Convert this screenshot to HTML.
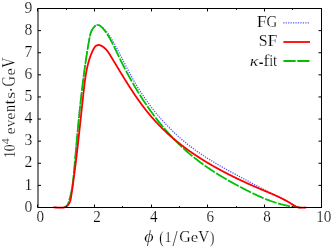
<!DOCTYPE html>
<html><head><meta charset="utf-8"><title>plot</title>
<style>
html,body{margin:0;padding:0;background:#fff;}
body{width:332px;height:247px;overflow:hidden;font-family:"Liberation Serif",serif;}
svg{display:block;}
text{font-family:"Liberation Serif",serif;fill:#000;font-kerning:none;stroke:#fff;stroke-width:0.2px;vector-effect:non-scaling-stroke;}
</style></head><body>
<svg width="332" height="247" viewBox="0 0 332 247">
<rect x="0" y="0" width="332" height="247" fill="#fff"/>
<path d="M53.59,207.48 L54.18,207.42 L54.86,207.41 L55.61,207.43 L56.42,207.47 L57.27,207.52 L58.17,207.57 L59.08,207.60 L60.01,207.60 L60.94,207.60 L61.85,207.60 L62.74,207.52 L63.58,207.39 L64.37,207.19 L65.10,206.91 L65.76,206.55 L66.33,206.11 L66.84,205.60 L67.29,205.02 L67.68,204.38 L68.02,203.70 L68.32,202.97 L68.59,202.22 L68.84,201.44 L69.07,200.64 L69.28,199.84 L69.49,199.04 L69.70,198.24 L69.90,197.44 L70.09,196.64 L70.28,195.84 L70.47,195.04 L70.65,194.23 L70.83,193.43 L71.00,192.63 L71.16,191.83 L71.33,191.03 L71.49,190.22 L71.64,189.42 L71.79,188.62 L71.94,187.82 L72.08,187.01 L72.22,186.21 L72.35,185.41 L72.48,184.60 L72.61,183.80 L72.74,183.00 L72.86,182.19 L72.97,181.39 L73.09,180.59 L73.20,179.78 L73.31,178.98 L73.41,178.17 L73.52,177.37 L73.62,176.56 L73.71,175.76 L73.81,174.95 L73.90,174.15 L73.99,173.34 L74.08,172.54 L74.16,171.73 L74.25,170.93 L74.33,170.12 L74.41,169.32 L74.48,168.51 L74.56,167.70 L74.63,166.90 L74.71,166.09 L74.78,165.28 L74.85,164.48 L74.91,163.67 L74.98,162.86 L75.05,162.05 L75.11,161.25 L75.18,160.44 L75.24,159.63 L75.30,158.82 L75.36,158.01 L75.43,157.21 L75.49,156.40 L75.55,155.59 L75.61,154.78 L75.67,153.97 L75.73,153.16 L75.78,152.35 L75.84,151.54 L75.90,150.73 L75.96,149.92 L76.02,149.11 L76.09,148.30 L76.15,147.49 L76.21,146.68 L76.27,145.87 L76.33,145.06 L76.40,144.25 L76.46,143.44 L76.53,142.63 L76.60,141.82 L76.66,141.00 L76.73,140.19 L76.80,139.38 L76.87,138.57 L76.94,137.76 L77.01,136.94 L77.08,136.13 L77.15,135.32 L77.23,134.51 L77.30,133.69 L77.38,132.88 L77.45,132.07 L77.53,131.26 L77.60,130.44 L77.68,129.63 L77.76,128.82 L77.83,128.00 L77.91,127.19 L77.99,126.38 L78.07,125.57 L78.15,124.75 L78.23,123.94 L78.32,123.13 L78.40,122.32 L78.48,121.50 L78.56,120.69 L78.65,119.88 L78.73,119.07 L78.82,118.26 L78.90,117.44 L78.99,116.63 L79.07,115.82 L79.16,115.01 L79.24,114.20 L79.33,113.39 L79.42,112.58 L79.51,111.77 L79.59,110.96 L79.68,110.15 L79.77,109.34 L79.86,108.53 L79.95,107.72 L80.04,106.91 L80.13,106.10 L80.22,105.29 L80.31,104.48 L80.40,103.67 L80.50,102.86 L80.59,102.06 L80.68,101.25 L80.77,100.44 L80.86,99.64 L80.96,98.83 L81.05,98.02 L81.14,97.22 L81.23,96.41 L81.33,95.61 L81.42,94.80 L81.51,94.00 L81.61,93.20 L81.70,92.39 L81.80,91.59 L81.89,90.79 L81.99,89.98 L82.08,89.18 L82.18,88.38 L82.27,87.58 L82.37,86.78 L82.46,85.97 L82.56,85.17 L82.66,84.37 L82.75,83.57 L82.85,82.77 L82.95,81.97 L83.05,81.17 L83.15,80.37 L83.25,79.57 L83.35,78.77 L83.45,77.97 L83.55,77.17 L83.65,76.37 L83.75,75.56 L83.86,74.76 L83.96,73.96 L84.07,73.16 L84.17,72.36 L84.28,71.56 L84.38,70.76 L84.49,69.96 L84.60,69.15 L84.71,68.35 L84.82,67.55 L84.93,66.75 L85.04,65.94 L85.15,65.14 L85.26,64.34 L85.38,63.53 L85.49,62.73 L85.61,61.92 L85.72,61.12 L85.84,60.31 L85.96,59.51 L86.08,58.70 L86.20,57.89 L86.32,57.09 L86.44,56.28 L86.56,55.47 L86.69,54.66 L86.81,53.85 L86.94,53.04 L87.07,52.23 L87.20,51.42 L87.33,50.61 L87.46,49.80 L87.59,48.98 L87.73,48.17 L87.86,47.35 L88.00,46.54 L88.14,45.72 L88.27,44.91 L88.41,44.09 L88.56,43.27 L88.70,42.45 L88.84,41.63 L88.99,40.81 L89.14,39.99 L89.29,39.16 L89.44,38.34 L89.60,37.52 L89.76,36.70 L89.94,35.89 L90.14,35.08 L90.35,34.29 L90.58,33.50 L90.84,32.72 L91.12,31.95 L91.43,31.20 L91.77,30.47 L92.15,29.75 L92.56,29.05 L93.01,28.37 L93.51,27.71 L94.05,27.08 L94.63,26.49 L95.24,25.96 L95.88,25.52 L96.53,25.18 L97.20,24.96 L97.88,24.89 L98.55,24.98 L99.22,25.21 L99.89,25.55 L100.54,25.98 L101.18,26.45 L101.81,26.95 L102.43,27.46 L103.03,27.99 L103.61,28.54 L104.18,29.09 L104.74,29.67 L105.29,30.25 L105.83,30.85 L106.35,31.46 L106.87,32.08 L107.37,32.72 L107.86,33.36 L108.35,34.01 L108.82,34.68 L109.29,35.35 L109.74,36.02 L110.20,36.71 L110.64,37.40 L111.08,38.10 L111.51,38.80 L111.93,39.51 L112.35,40.23 L112.76,40.94 L113.17,41.66 L113.58,42.38 L113.98,43.11 L114.38,43.83 L114.78,44.56 L115.17,45.28 L115.57,46.01 L115.96,46.73 L116.35,47.46 L116.73,48.19 L117.12,48.91 L117.50,49.64 L117.88,50.37 L118.26,51.09 L118.64,51.82 L119.02,52.55 L119.40,53.27 L119.77,54.00 L120.15,54.72 L120.52,55.45 L120.89,56.18 L121.26,56.90 L121.64,57.63 L122.01,58.35 L122.38,59.08 L122.75,59.80 L123.12,60.53 L123.48,61.25 L123.85,61.98 L124.22,62.70 L124.59,63.42 L124.96,64.14 L125.33,64.87 L125.70,65.59 L126.07,66.31 L126.44,67.03 L126.82,67.75 L127.19,68.47 L127.56,69.19 L127.94,69.90 L128.31,70.62 L128.69,71.34 L129.07,72.05 L129.45,72.77 L129.83,73.48 L130.21,74.19 L130.59,74.90 L130.98,75.61 L131.37,76.32 L131.76,77.03 L132.15,77.74 L132.54,78.45 L132.94,79.15 L133.34,79.86 L133.74,80.56 L134.14,81.26 L134.54,81.96 L134.95,82.66 L135.36,83.36 L135.77,84.06 L136.19,84.76 L136.61,85.45 L137.03,86.15 L137.45,86.84 L137.87,87.53 L138.30,88.22 L138.73,88.91 L139.16,89.59 L139.60,90.28 L140.03,90.96 L140.47,91.65 L140.91,92.33 L141.36,93.01 L141.80,93.69 L142.25,94.37 L142.70,95.04 L143.16,95.72 L143.61,96.39 L144.07,97.06 L144.53,97.73 L144.99,98.40 L145.46,99.07 L145.93,99.73 L146.40,100.40 L146.87,101.06 L147.34,101.72 L147.82,102.38 L148.30,103.03 L148.78,103.69 L149.26,104.34 L149.75,105.00 L150.24,105.65 L150.73,106.30 L151.22,106.94 L151.72,107.59 L152.21,108.23 L152.71,108.88 L153.22,109.52 L153.72,110.15 L154.23,110.79 L154.74,111.43 L155.25,112.06 L155.76,112.69 L156.28,113.32 L156.79,113.95 L157.31,114.57 L157.84,115.20 L158.36,115.82 L158.89,116.44 L159.42,117.06 L159.95,117.67 L160.48,118.29 L161.02,118.90 L161.56,119.51 L162.10,120.11 L162.64,120.72 L163.19,121.32 L163.73,121.93 L164.28,122.53 L164.83,123.12 L165.39,123.72 L165.94,124.31 L166.50,124.90 L167.06,125.49 L167.62,126.08 L168.19,126.66 L168.76,127.25 L169.33,127.83 L169.90,128.40 L170.47,128.98 L171.05,129.55 L171.62,130.13 L172.20,130.69 L172.79,131.26 L173.37,131.83 L173.96,132.39 L174.55,132.95 L175.14,133.50 L175.73,134.06 L176.32,134.61 L176.92,135.16 L177.52,135.71 L178.12,136.26 L178.73,136.80 L179.33,137.34 L179.94,137.88 L180.55,138.41 L181.16,138.95 L181.77,139.48 L182.39,140.00 L183.01,140.53 L183.63,141.05 L184.25,141.57 L184.88,142.09 L185.50,142.61 L186.13,143.12 L186.76,143.63 L187.40,144.13 L188.03,144.64 L188.67,145.14 L189.31,145.64 L189.95,146.14 L190.59,146.63 L191.24,147.12 L191.88,147.61 L192.53,148.10 L193.18,148.58 L193.84,149.06 L194.49,149.54 L195.15,150.01 L195.81,150.48 L196.47,150.95 L197.13,151.42 L197.79,151.89 L198.46,152.35 L199.13,152.81 L199.80,153.27 L200.47,153.73 L201.14,154.18 L201.82,154.63 L202.49,155.08 L203.17,155.53 L203.85,155.97 L204.53,156.42 L205.21,156.86 L205.89,157.30 L206.58,157.73 L207.26,158.17 L207.95,158.60 L208.64,159.03 L209.33,159.46 L210.02,159.89 L210.71,160.32 L211.41,160.74 L212.10,161.16 L212.80,161.59 L213.49,162.00 L214.19,162.42 L214.89,162.84 L215.59,163.25 L216.29,163.67 L216.99,164.08 L217.70,164.49 L218.40,164.90 L219.10,165.31 L219.81,165.71 L220.52,166.12 L221.22,166.52 L221.93,166.92 L222.64,167.33 L223.35,167.73 L224.06,168.13 L224.77,168.52 L225.48,168.92 L226.19,169.32 L226.90,169.71 L227.62,170.11 L228.33,170.50 L229.04,170.89 L229.76,171.29 L230.47,171.68 L231.19,172.07 L231.90,172.46 L232.62,172.85 L233.34,173.23 L234.05,173.62 L234.77,174.01 L235.49,174.39 L236.20,174.78 L236.92,175.17 L237.64,175.55 L238.35,175.94 L239.07,176.32 L239.79,176.70 L240.51,177.09 L241.22,177.47 L241.94,177.85 L242.66,178.24 L243.38,178.62 L244.09,179.00 L244.81,179.39 L245.53,179.77 L246.24,180.15 L246.96,180.53 L247.67,180.92 L248.39,181.30 L249.10,181.68 L249.82,182.06 L250.53,182.45 L251.25,182.83 L251.96,183.21 L252.68,183.59 L253.39,183.98 L254.11,184.36 L254.82,184.74 L255.53,185.12 L256.25,185.50 L256.96,185.88 L257.68,186.26 L258.39,186.64 L259.11,187.02 L259.82,187.40 L260.54,187.78 L261.25,188.15 L261.97,188.53 L262.69,188.91 L263.40,189.28 L264.12,189.66 L264.84,190.03 L265.56,190.40 L266.28,190.77 L267.00,191.14 L267.72,191.51 L268.44,191.88 L269.16,192.25 L269.89,192.62 L270.61,192.98 L271.34,193.35 L272.06,193.71 L272.79,194.07 L273.52,194.43 L274.25,194.79 L274.98,195.14 L275.71,195.50 L276.44,195.85 L277.17,196.21 L277.91,196.56 L278.65,196.91 L279.38,197.25 L280.12,197.60 L280.86,197.95 L281.59,198.30 L282.33,198.66 L283.06,199.01 L283.79,199.37 L284.52,199.74 L285.25,200.11 L285.97,200.48 L286.68,200.87 L287.40,201.26 L288.10,201.66 L288.80,202.07 L289.50,202.50 L290.19,202.93 L290.87,203.37 L291.55,203.81 L292.23,204.25 L292.91,204.69 L293.59,205.12 L294.27,205.53 L294.96,205.92 L295.66,206.30 L296.36,206.65 L297.08,206.97 L297.80,207.25 L298.54,207.50 L299.30,207.60 L300.08,207.60 L300.87,207.60 L301.68,207.60 L302.52,207.60 L303.38,207.60 L304.27,207.60 L305.18,207.60 L306.13,207.36" fill="none" stroke="#0000ff" stroke-width="1.3" stroke-dasharray="1.2 1.25" stroke-opacity="0.68"/>
<path d="M64.21,207.28 L65.07,207.00 L65.81,206.62 L66.44,206.15 L66.97,205.60 L67.42,204.99 L67.80,204.33 L68.12,203.62 L68.41,202.89 L68.67,202.14 L68.92,201.38 L69.17,200.63 L69.40,199.87 L69.62,199.11 L69.84,198.35 L70.05,197.59 L70.25,196.83 L70.45,196.07 L70.63,195.30 L70.81,194.53 L70.98,193.77 L71.15,193.00 L71.31,192.23 L71.46,191.45 L71.61,190.68 L71.76,189.91 L71.89,189.13 L72.02,188.36 L72.15,187.58 L72.27,186.80 L72.39,186.02 L72.50,185.24 L72.61,184.46 L72.72,183.68 L72.82,182.90 L72.91,182.12 L73.01,181.33 L73.10,180.55 L73.19,179.77 L73.27,178.98 L73.36,178.20 L73.44,177.41 L73.52,176.62 L73.59,175.84 L73.67,175.05 L73.74,174.26 L73.82,173.47 L73.89,172.69 L73.96,171.90 L74.03,171.11 L74.10,170.32 L74.17,169.53 L74.24,168.74 L74.32,167.95 L74.39,167.17 L74.46,166.38 L74.53,165.59 L74.60,164.80 L74.67,164.01 L74.74,163.22 L74.81,162.43 L74.88,161.64 L74.95,160.85 L75.02,160.06 L75.09,159.27 L75.16,158.48 L75.23,157.69 L75.30,156.90 L75.37,156.11 L75.44,155.32 L75.52,154.53 L75.59,153.74 L75.66,152.95 L75.73,152.16 L75.80,151.37 L75.87,150.58 L75.94,149.79 L76.01,149.00 L76.08,148.21 L76.15,147.42 L76.22,146.63 L76.30,145.84 L76.37,145.05 L76.44,144.26 L76.51,143.47 L76.58,142.68 L76.65,141.89 L76.73,141.10 L76.80,140.31 L76.87,139.52 L76.94,138.73 L77.02,137.94 L77.09,137.15 L77.16,136.36 L77.23,135.57 L77.31,134.78 L77.38,134.00 L77.45,133.21 L77.53,132.42 L77.60,131.63 L77.68,130.84 L77.75,130.05 L77.83,129.26 L77.90,128.47 L77.97,127.68 L78.05,126.89 L78.13,126.10 L78.20,125.31 L78.28,124.53 L78.35,123.74 L78.43,122.95 L78.51,122.16 L78.58,121.37 L78.66,120.58 L78.74,119.80 L78.82,119.01 L78.89,118.22 L78.97,117.43 L79.05,116.65 L79.13,115.86 L79.21,115.07 L79.29,114.28 L79.37,113.50 L79.45,112.71 L79.53,111.92 L79.61,111.14 L79.69,110.35 L79.77,109.56 L79.85,108.78 L79.93,107.99 L80.02,107.21 L80.10,106.42 L80.18,105.64 L80.27,104.85 L80.35,104.07 L80.43,103.28 L80.52,102.50 L80.60,101.71 L80.69,100.93 L80.78,100.15 L80.86,99.36 L80.95,98.58 L81.04,97.79 L81.12,97.01 L81.21,96.23 L81.30,95.45 L81.39,94.66 L81.48,93.88 L81.57,93.10 L81.66,92.32 L81.75,91.54 L81.84,90.76 L81.93,89.97 L82.02,89.19 L82.11,88.41 L82.21,87.63 L82.30,86.85 L82.40,86.07 L82.49,85.29 L82.58,84.51 L82.68,83.74 L82.78,82.96 L82.87,82.18 L82.97,81.40 L83.07,80.62 L83.17,79.84 L83.27,79.06 L83.37,78.28 L83.47,77.50 L83.57,76.72 L83.67,75.94 L83.77,75.16 L83.87,74.39 L83.98,73.61 L84.08,72.83 L84.19,72.05 L84.29,71.27 L84.40,70.49 L84.51,69.71 L84.61,68.93 L84.72,68.14 L84.83,67.36 L84.94,66.58 L85.05,65.80 L85.16,65.02 L85.28,64.24 L85.39,63.45 L85.50,62.67 L85.62,61.89 L85.74,61.10 L85.85,60.32 L85.97,59.53 L86.09,58.75 L86.21,57.96 L86.33,57.18 L86.45,56.39 L86.57,55.60 L86.69,54.81 L86.82,54.03 L86.94,53.24 L87.07,52.45 L87.19,51.66 L87.32,50.86 L87.45,50.07 L87.58,49.28 L87.71,48.49 L87.84,47.69 L87.97,46.90 L88.10,46.10 L88.24,45.31 L88.37,44.51 L88.51,43.71 L88.65,42.91 L88.79,42.11 L88.93,41.31 L89.07,40.51 L89.21,39.71 L89.35,38.91 L89.50,38.11 L89.65,37.31 L89.82,36.51 L89.99,35.72 L90.18,34.94 L90.38,34.16 L90.61,33.40 L90.85,32.65 L91.12,31.91 L91.42,31.19 L91.75,30.48 L92.10,29.79 L92.50,29.12 L92.93,28.47 L93.39,27.85 L93.90,27.25 L94.45,26.69 L95.03,26.19 L95.63,25.75 L96.25,25.41 L96.88,25.17 L97.52,25.05 L98.15,25.07 L98.78,25.21 L99.40,25.46 L100.02,25.80 L100.62,26.23 L101.22,26.72 L101.81,27.27 L102.38,27.85 L102.94,28.45 L103.48,29.07 L104.01,29.70 L104.52,30.34 L105.02,30.98 L105.51,31.63 L105.98,32.29 L106.45,32.96 L106.90,33.63 L107.34,34.31 L107.78,34.99 L108.20,35.68 L108.62,36.37 L109.03,37.06 L109.43,37.75 L109.83,38.45 L110.22,39.15 L110.60,39.84 L110.98,40.54 L111.36,41.24 L111.73,41.95 L112.09,42.65 L112.45,43.35 L112.81,44.06 L113.17,44.77 L113.52,45.47 L113.87,46.18 L114.21,46.89 L114.56,47.60 L114.90,48.31 L115.24,49.02 L115.58,49.73 L115.91,50.44 L116.25,51.15 L116.59,51.86 L116.92,52.57 L117.26,53.28 L117.60,53.99 L117.94,54.70 L118.28,55.41 L118.62,56.12 L118.96,56.83 L119.30,57.54 L119.64,58.25 L119.99,58.96 L120.34,59.66 L120.68,60.37 L121.03,61.08 L121.38,61.79 L121.74,62.49 L122.09,63.20 L122.44,63.90 L122.80,64.61 L123.16,65.31 L123.52,66.02 L123.88,66.72 L124.24,67.42 L124.60,68.13 L124.97,68.83 L125.33,69.53 L125.70,70.23 L126.07,70.93 L126.44,71.63 L126.81,72.33 L127.18,73.03 L127.56,73.72 L127.93,74.42 L128.31,75.12 L128.69,75.81 L129.07,76.51 L129.45,77.20 L129.83,77.90 L130.22,78.59 L130.60,79.28 L130.99,79.97 L131.38,80.66 L131.77,81.35 L132.16,82.04 L132.55,82.73 L132.95,83.42 L133.34,84.10 L133.74,84.79 L134.14,85.47 L134.54,86.16 L134.94,86.84 L135.35,87.52 L135.75,88.21 L136.16,88.89 L136.57,89.57 L136.98,90.24 L137.39,90.92 L137.80,91.60 L138.22,92.27 L138.63,92.95 L139.05,93.62 L139.47,94.30 L139.89,94.97 L140.31,95.64 L140.74,96.31 L141.16,96.98 L141.59,97.64 L142.02,98.31 L142.45,98.98 L142.88,99.64 L143.31,100.30 L143.75,100.97 L144.19,101.63 L144.63,102.29 L145.07,102.95 L145.51,103.60 L145.95,104.26 L146.40,104.91 L146.84,105.57 L147.29,106.22 L147.74,106.87 L148.19,107.52 L148.65,108.17 L149.10,108.82 L149.56,109.46 L150.02,110.11 L150.48,110.75 L150.94,111.40 L151.40,112.04 L151.87,112.68 L152.34,113.31 L152.80,113.95 L153.27,114.59 L153.75,115.22 L154.22,115.85 L154.70,116.48 L155.17,117.11 L155.65,117.74 L156.13,118.37 L156.62,118.99 L157.10,119.62 L157.59,120.24 L158.08,120.86 L158.57,121.48 L159.06,122.10 L159.55,122.71 L160.05,123.33 L160.54,123.94 L161.04,124.55 L161.54,125.16 L162.05,125.77 L162.55,126.38 L163.06,126.98 L163.56,127.59 L164.07,128.19 L164.59,128.79 L165.10,129.39 L165.62,129.98 L166.13,130.58 L166.65,131.17 L167.17,131.76 L167.70,132.35 L168.22,132.94 L168.75,133.52 L169.28,134.11 L169.81,134.69 L170.34,135.27 L170.87,135.85 L171.41,136.43 L171.95,137.00 L172.49,137.58 L173.03,138.15 L173.57,138.72 L174.12,139.28 L174.67,139.85 L175.22,140.41 L175.77,140.98 L176.32,141.54 L176.88,142.09 L177.44,142.65 L177.99,143.20 L178.56,143.76 L179.12,144.31 L179.69,144.85 L180.25,145.40 L180.82,145.94 L181.39,146.48 L181.97,147.02 L182.54,147.56 L183.12,148.10 L183.70,148.63 L184.28,149.16 L184.87,149.69 L185.45,150.22 L186.04,150.74 L186.63,151.26 L187.22,151.78 L187.81,152.30 L188.41,152.82 L189.01,153.33 L189.61,153.84 L190.21,154.35 L190.81,154.86 L191.42,155.36 L192.03,155.87 L192.64,156.37 L193.25,156.86 L193.87,157.36 L194.48,157.85 L195.10,158.34 L195.72,158.83 L196.35,159.32 L196.97,159.80 L197.60,160.29 L198.23,160.77 L198.86,161.24 L199.49,161.72 L200.12,162.19 L200.76,162.66 L201.40,163.13 L202.04,163.60 L202.68,164.06 L203.32,164.53 L203.97,164.99 L204.61,165.45 L205.26,165.90 L205.91,166.36 L206.56,166.81 L207.21,167.26 L207.87,167.71 L208.52,168.16 L209.18,168.60 L209.84,169.04 L210.50,169.48 L211.16,169.92 L211.83,170.36 L212.49,170.79 L213.16,171.23 L213.83,171.66 L214.49,172.09 L215.16,172.52 L215.84,172.94 L216.51,173.37 L217.18,173.79 L217.86,174.21 L218.53,174.63 L219.21,175.04 L219.89,175.46 L220.57,175.87 L221.25,176.28 L221.93,176.69 L222.62,177.10 L223.30,177.51 L223.99,177.91 L224.67,178.32 L225.36,178.72 L226.05,179.12 L226.74,179.52 L227.43,179.92 L228.12,180.31 L228.81,180.70 L229.50,181.10 L230.20,181.49 L230.89,181.88 L231.59,182.27 L232.28,182.65 L232.98,183.04 L233.67,183.42 L234.37,183.80 L235.07,184.18 L235.77,184.56 L236.47,184.94 L237.17,185.32 L237.87,185.69 L238.57,186.06 L239.27,186.44 L239.98,186.81 L240.68,187.18 L241.38,187.55 L242.09,187.91 L242.79,188.28 L243.49,188.64 L244.20,189.01 L244.90,189.37 L245.61,189.73 L246.32,190.09 L247.02,190.45 L247.73,190.80 L248.43,191.16 L249.14,191.51 L249.85,191.86 L250.56,192.21 L251.27,192.56 L251.98,192.91 L252.69,193.25 L253.40,193.60 L254.11,193.94 L254.82,194.28 L255.53,194.61 L256.25,194.94 L256.96,195.28 L257.68,195.60 L258.39,195.93 L259.11,196.25 L259.83,196.57 L260.55,196.89 L261.27,197.20 L261.99,197.52 L262.71,197.82 L263.43,198.13 L264.16,198.43 L264.88,198.73 L265.61,199.02 L266.34,199.32 L267.07,199.60 L267.80,199.89 L268.53,200.17 L269.26,200.44 L270.00,200.72 L270.73,200.99 L271.47,201.25 L272.21,201.51 L272.95,201.77 L273.69,202.02 L274.44,202.27 L275.18,202.51 L275.93,202.75 L276.68,202.98 L277.43,203.21 L278.18,203.43 L278.94,203.65 L279.69,203.86 L280.45,204.07 L281.21,204.28 L281.97,204.48 L282.74,204.67 L283.50,204.86 L284.27,205.04 L285.04,205.22 L285.81,205.39 L286.59,205.55 L287.37,205.71 L288.14,205.86 L288.92,206.01 L289.71,206.15 L290.49,206.29 L291.28,206.42 L292.07,206.54 L292.86,206.66 L293.66,206.77 L294.46,206.87 L295.26,206.97 L296.06,207.06 L296.87,207.14 L297.67,207.22 L298.48,207.29 L299.30,207.35 L300.11,207.41" fill="none" stroke="#00c000" stroke-width="1.8" stroke-dasharray="12.2 1.61" stroke-dashoffset="4.70"/>
<path d="M53.53,207.40 L54.20,207.42 L54.90,207.46 L55.63,207.52 L56.39,207.58 L57.16,207.60 L57.96,207.60 L58.76,207.60 L59.57,207.60 L60.38,207.60 L61.19,207.60 L61.98,207.60 L62.77,207.60 L63.53,207.52 L64.27,207.33 L64.98,207.09 L65.65,206.79 L66.29,206.44 L66.89,206.05 L67.44,205.62 L67.94,205.14 L68.40,204.62 L68.80,204.07 L69.17,203.49 L69.49,202.87 L69.77,202.23 L70.03,201.57 L70.25,200.88 L70.45,200.17 L70.63,199.45 L70.78,198.71 L70.92,197.96 L71.05,197.21 L71.18,196.45 L71.29,195.68 L71.41,194.91 L71.52,194.15 L71.63,193.38 L71.75,192.62 L71.86,191.86 L71.97,191.09 L72.08,190.33 L72.19,189.57 L72.30,188.80 L72.41,188.04 L72.52,187.28 L72.63,186.52 L72.73,185.76 L72.84,185.00 L72.95,184.24 L73.05,183.48 L73.16,182.72 L73.26,181.96 L73.36,181.20 L73.47,180.44 L73.57,179.68 L73.67,178.92 L73.77,178.17 L73.88,177.41 L73.98,176.65 L74.08,175.89 L74.18,175.14 L74.27,174.38 L74.37,173.62 L74.47,172.87 L74.57,172.11 L74.67,171.36 L74.76,170.60 L74.86,169.85 L74.95,169.09 L75.05,168.34 L75.14,167.58 L75.24,166.83 L75.33,166.08 L75.43,165.32 L75.52,164.57 L75.61,163.82 L75.71,163.06 L75.80,162.31 L75.89,161.56 L75.98,160.81 L76.07,160.05 L76.16,159.30 L76.25,158.55 L76.34,157.80 L76.43,157.05 L76.52,156.30 L76.61,155.54 L76.70,154.79 L76.79,154.04 L76.87,153.29 L76.96,152.54 L77.05,151.79 L77.13,151.04 L77.22,150.29 L77.31,149.54 L77.39,148.79 L77.48,148.04 L77.57,147.29 L77.65,146.54 L77.74,145.79 L77.82,145.04 L77.90,144.29 L77.99,143.54 L78.07,142.79 L78.16,142.04 L78.24,141.30 L78.32,140.55 L78.41,139.80 L78.49,139.05 L78.57,138.30 L78.66,137.55 L78.74,136.80 L78.82,136.05 L78.90,135.30 L78.99,134.55 L79.07,133.81 L79.15,133.06 L79.23,132.31 L79.31,131.56 L79.39,130.81 L79.48,130.06 L79.56,129.31 L79.64,128.56 L79.72,127.81 L79.80,127.07 L79.88,126.32 L79.96,125.57 L80.04,124.82 L80.12,124.07 L80.20,123.32 L80.28,122.57 L80.36,121.82 L80.45,121.07 L80.53,120.32 L80.61,119.57 L80.69,118.82 L80.77,118.07 L80.85,117.32 L80.93,116.57 L81.01,115.82 L81.09,115.07 L81.17,114.32 L81.25,113.57 L81.33,112.82 L81.41,112.07 L81.49,111.32 L81.57,110.57 L81.65,109.82 L81.73,109.07 L81.82,108.31 L81.90,107.56 L81.98,106.81 L82.06,106.06 L82.14,105.31 L82.22,104.55 L82.30,103.80 L82.38,103.05 L82.47,102.30 L82.55,101.54 L82.63,100.79 L82.71,100.04 L82.80,99.28 L82.88,98.53 L82.96,97.77 L83.04,97.02 L83.13,96.26 L83.21,95.51 L83.29,94.75 L83.38,94.00 L83.46,93.24 L83.55,92.49 L83.63,91.73 L83.71,90.97 L83.80,90.22 L83.88,89.46 L83.97,88.70 L84.06,87.95 L84.14,87.19 L84.23,86.43 L84.32,85.67 L84.41,84.92 L84.50,84.16 L84.59,83.40 L84.69,82.64 L84.78,81.89 L84.88,81.13 L84.98,80.37 L85.08,79.62 L85.19,78.86 L85.29,78.11 L85.40,77.35 L85.52,76.60 L85.63,75.84 L85.75,75.09 L85.87,74.34 L86.00,73.59 L86.13,72.84 L86.26,72.09 L86.40,71.34 L86.54,70.60 L86.69,69.85 L86.84,69.11 L87.00,68.36 L87.16,67.62 L87.32,66.88 L87.49,66.14 L87.67,65.40 L87.85,64.67 L88.04,63.93 L88.23,63.20 L88.43,62.47 L88.64,61.74 L88.85,61.01 L89.07,60.28 L89.29,59.56 L89.52,58.83 L89.76,58.11 L90.00,57.39 L90.26,56.68 L90.52,55.96 L90.78,55.25 L91.06,54.54 L91.34,53.83 L91.63,53.13 L91.93,52.43 L92.24,51.72 L92.56,51.03 L92.88,50.33 L93.22,49.65 L93.57,48.98 L93.93,48.33 L94.31,47.72 L94.72,47.16 L95.15,46.64 L95.60,46.18 L96.09,45.78 L96.60,45.46 L97.15,45.22 L97.74,45.07 L98.36,45.02 L99.03,45.07 L99.72,45.21 L100.44,45.44 L101.16,45.74 L101.89,46.11 L102.61,46.53 L103.30,46.99 L103.97,47.48 L104.60,48.00 L105.20,48.55 L105.76,49.11 L106.30,49.70 L106.81,50.30 L107.30,50.92 L107.77,51.54 L108.22,52.18 L108.65,52.83 L109.08,53.48 L109.49,54.14 L109.90,54.80 L110.30,55.46 L110.71,56.12 L111.11,56.78 L111.51,57.43 L111.91,58.09 L112.31,58.74 L112.70,59.39 L113.10,60.04 L113.49,60.70 L113.89,61.34 L114.28,61.99 L114.67,62.64 L115.06,63.29 L115.45,63.93 L115.84,64.58 L116.23,65.22 L116.62,65.87 L117.00,66.51 L117.39,67.15 L117.78,67.79 L118.17,68.43 L118.55,69.07 L118.94,69.71 L119.33,70.35 L119.71,70.99 L120.10,71.63 L120.49,72.27 L120.87,72.90 L121.26,73.54 L121.65,74.18 L122.04,74.82 L122.43,75.45 L122.82,76.09 L123.21,76.73 L123.60,77.36 L123.99,78.00 L124.38,78.64 L124.78,79.27 L125.17,79.91 L125.57,80.55 L125.97,81.19 L126.37,81.82 L126.77,82.46 L127.17,83.10 L127.57,83.73 L127.97,84.37 L128.38,85.01 L128.78,85.65 L129.19,86.28 L129.60,86.92 L130.01,87.56 L130.42,88.19 L130.84,88.83 L131.25,89.46 L131.67,90.10 L132.08,90.73 L132.50,91.36 L132.92,92.00 L133.34,92.63 L133.77,93.26 L134.19,93.89 L134.62,94.52 L135.04,95.15 L135.47,95.78 L135.90,96.41 L136.34,97.04 L136.77,97.66 L137.21,98.29 L137.64,98.91 L138.08,99.54 L138.52,100.16 L138.96,100.78 L139.41,101.40 L139.85,102.02 L140.30,102.64 L140.75,103.26 L141.20,103.87 L141.65,104.48 L142.11,105.10 L142.56,105.71 L143.02,106.32 L143.48,106.93 L143.94,107.53 L144.41,108.14 L144.87,108.74 L145.34,109.34 L145.81,109.94 L146.28,110.54 L146.75,111.14 L147.23,111.73 L147.71,112.32 L148.19,112.92 L148.67,113.50 L149.15,114.09 L149.64,114.68 L150.12,115.26 L150.61,115.84 L151.10,116.42 L151.60,117.00 L152.09,117.57 L152.59,118.14 L153.09,118.71 L153.59,119.28 L154.10,119.85 L154.61,120.41 L155.11,120.97 L155.62,121.53 L156.14,122.08 L156.65,122.64 L157.17,123.19 L157.69,123.74 L158.21,124.29 L158.73,124.83 L159.26,125.37 L159.79,125.91 L160.32,126.45 L160.85,126.99 L161.38,127.52 L161.92,128.05 L162.46,128.58 L162.99,129.11 L163.54,129.64 L164.08,130.16 L164.63,130.68 L165.17,131.20 L165.72,131.72 L166.27,132.23 L166.83,132.74 L167.38,133.25 L167.94,133.76 L168.49,134.27 L169.06,134.77 L169.62,135.28 L170.18,135.78 L170.75,136.27 L171.31,136.77 L171.88,137.26 L172.45,137.76 L173.03,138.25 L173.60,138.73 L174.18,139.22 L174.75,139.70 L175.33,140.19 L175.92,140.67 L176.50,141.14 L177.08,141.62 L177.67,142.09 L178.26,142.57 L178.85,143.04 L179.44,143.50 L180.03,143.97 L180.62,144.44 L181.22,144.90 L181.82,145.36 L182.42,145.82 L183.02,146.27 L183.62,146.73 L184.22,147.18 L184.83,147.63 L185.43,148.08 L186.04,148.53 L186.65,148.98 L187.26,149.42 L187.87,149.86 L188.49,150.30 L189.10,150.74 L189.72,151.18 L190.33,151.62 L190.95,152.05 L191.57,152.48 L192.20,152.91 L192.82,153.34 L193.44,153.77 L194.07,154.19 L194.70,154.61 L195.32,155.03 L195.95,155.45 L196.59,155.87 L197.22,156.29 L197.85,156.70 L198.49,157.12 L199.12,157.53 L199.76,157.94 L200.40,158.34 L201.04,158.75 L201.68,159.15 L202.32,159.56 L202.96,159.96 L203.61,160.36 L204.25,160.76 L204.90,161.15 L205.54,161.55 L206.19,161.94 L206.84,162.33 L207.49,162.72 L208.14,163.11 L208.80,163.50 L209.45,163.89 L210.10,164.27 L210.76,164.65 L211.42,165.04 L212.07,165.41 L212.73,165.79 L213.39,166.17 L214.05,166.55 L214.71,166.92 L215.38,167.29 L216.04,167.66 L216.70,168.03 L217.37,168.40 L218.03,168.77 L218.70,169.13 L219.37,169.50 L220.04,169.86 L220.70,170.22 L221.37,170.58 L222.05,170.94 L222.72,171.29 L223.39,171.65 L224.06,172.00 L224.74,172.36 L225.41,172.71 L226.08,173.06 L226.76,173.41 L227.44,173.76 L228.11,174.10 L228.79,174.45 L229.47,174.79 L230.15,175.13 L230.83,175.47 L231.51,175.81 L232.19,176.15 L232.87,176.49 L233.55,176.83 L234.24,177.16 L234.92,177.50 L235.60,177.83 L236.29,178.16 L236.97,178.49 L237.66,178.82 L238.34,179.15 L239.03,179.47 L239.72,179.80 L240.40,180.12 L241.09,180.45 L241.78,180.77 L242.47,181.09 L243.16,181.41 L243.85,181.73 L244.54,182.05 L245.23,182.36 L245.92,182.68 L246.61,182.99 L247.30,183.31 L247.99,183.62 L248.68,183.93 L249.37,184.24 L250.07,184.55 L250.76,184.86 L251.45,185.16 L252.14,185.47 L252.84,185.78 L253.53,186.08 L254.22,186.38 L254.92,186.68 L255.61,186.99 L256.31,187.29 L257.00,187.59 L257.70,187.88 L258.39,188.18 L259.09,188.48 L259.78,188.77 L260.48,189.07 L261.17,189.36 L261.87,189.65 L262.56,189.95 L263.26,190.24 L263.95,190.53 L264.65,190.82 L265.34,191.11 L266.04,191.40 L266.73,191.69 L267.43,191.98 L268.12,192.27 L268.81,192.56 L269.51,192.85 L270.20,193.15 L270.89,193.44 L271.58,193.73 L272.27,194.03 L272.96,194.33 L273.65,194.63 L274.34,194.93 L275.03,195.24 L275.71,195.55 L276.40,195.86 L277.08,196.17 L277.76,196.48 L278.44,196.80 L279.12,197.12 L279.80,197.45 L280.48,197.78 L281.15,198.11 L281.83,198.44 L282.50,198.78 L283.17,199.13 L283.84,199.48 L284.51,199.83 L285.17,200.19 L285.84,200.55 L286.50,200.92 L287.16,201.30 L287.82,201.67 L288.47,202.06 L289.13,202.45 L289.78,202.85 L290.43,203.25 L291.08,203.65 L291.73,204.05 L292.38,204.44 L293.03,204.83 L293.68,205.21 L294.34,205.58 L295.00,205.93 L295.67,206.26 L296.34,206.57 L297.03,206.86 L297.71,207.12 L298.41,207.35 L299.12,207.55 L299.84,207.60 L300.56,207.60 L301.31,207.60 L302.06,207.60 L302.83,207.60 L303.61,207.60 L304.41,207.60 L305.22,207.60 L306.05,207.42" fill="none" stroke="#ff0000" stroke-width="1.8" stroke-linejoin="round"/>
<rect x="38.0" y="8.5" width="283.5" height="199.0" fill="none" stroke="#000" stroke-width="1"/>
<path d="M37.50,207.5 v-3 M37.50,8.5 v3 M66.50,207.5 v-1.4 M66.50,8.5 v1.4 M94.50,207.5 v-3 M94.50,8.5 v3 M122.50,207.5 v-1.4 M122.50,8.5 v1.4 M151.50,207.5 v-3 M151.50,8.5 v3 M179.50,207.5 v-1.4 M179.50,8.5 v1.4 M207.50,207.5 v-3 M207.50,8.5 v3 M236.50,207.5 v-1.4 M236.50,8.5 v1.4 M264.50,207.5 v-3 M264.50,8.5 v3 M292.50,207.5 v-1.4 M292.50,8.5 v1.4 M321.50,207.5 v-3 M321.50,8.5 v3 M38.0,207.50 h3 M321.5,207.50 h-3 M38.0,185.39 h3 M321.5,185.39 h-3 M38.0,163.28 h3 M321.5,163.28 h-3 M38.0,141.17 h3 M321.5,141.17 h-3 M38.0,119.06 h3 M321.5,119.06 h-3 M38.0,96.94 h3 M321.5,96.94 h-3 M38.0,74.83 h3 M321.5,74.83 h-3 M38.0,52.72 h3 M321.5,52.72 h-3 M38.0,30.61 h3 M321.5,30.61 h-3 M38.0,8.50 h3 M321.5,8.50 h-3" fill="none" stroke="#000" stroke-width="1"/>
<filter id="gray" x="0" y="0" width="332" height="247" filterUnits="userSpaceOnUse" color-interpolation-filters="sRGB"><feColorMatrix type="saturate" values="0"/></filter>
<g filter="url(#gray)" style="will-change:transform">
<text transform="translate(40.30,221.9) scale(0.965,1.05)" font-size="15.7" text-anchor="middle">0</text>
<text transform="translate(97.00,221.9) scale(0.965,1.05)" font-size="15.7" text-anchor="middle">2</text>
<text transform="translate(153.70,221.9) scale(0.965,1.05)" font-size="15.7" text-anchor="middle">4</text>
<text transform="translate(210.40,221.9) scale(0.965,1.05)" font-size="15.7" text-anchor="middle">6</text>
<text transform="translate(267.10,221.9) scale(0.965,1.05)" font-size="15.7" text-anchor="middle">8</text>
<text transform="translate(323.80,221.9) scale(0.965,1.05)" font-size="15.7" text-anchor="middle">10</text>
<text x="32.35" y="211.70" font-size="15.7" text-anchor="end">0</text>
<text x="32.35" y="189.59" font-size="15.7" text-anchor="end">1</text>
<text x="32.35" y="167.48" font-size="15.7" text-anchor="end">2</text>
<text x="32.35" y="145.37" font-size="15.7" text-anchor="end">3</text>
<text x="32.35" y="123.26" font-size="15.7" text-anchor="end">4</text>
<text x="32.35" y="101.14" font-size="15.7" text-anchor="end">5</text>
<text x="32.35" y="79.03" font-size="15.7" text-anchor="end">6</text>
<text x="32.35" y="56.92" font-size="15.7" text-anchor="end">7</text>
<text x="32.35" y="34.81" font-size="15.7" text-anchor="end">8</text>
<text x="32.35" y="12.70" font-size="15.7" text-anchor="end">9</text>
<text transform="translate(144.19,242.15) scale(1.1638,1.0459)" font-size="15.5" font-style="italic">&#981;</text>
<text transform="translate(159.22,242.84) scale(0.8541,1.1100)" font-size="15.5">(</text>
<text transform="translate(164.73,242.10) scale(0.8613,0.9871)" font-size="15.5">1</text>
<text transform="translate(172.60,246.27) scale(1.1843,1.5045)" font-size="15.5">/</text>
<text transform="translate(179.34,242.24) scale(1.0324,1.0851)" font-size="15.5">G</text><text transform="translate(190.75,242.26) scale(1.0807,0.9390)" font-size="15.5">e</text><text transform="translate(198.23,242.15) scale(0.9774,1.0690)" font-size="15.5">V</text><text transform="translate(209.97,242.84) scale(0.8541,1.1100)" font-size="15.5">)</text>
<g transform="translate(14.7,157.2) rotate(-90)">
<text transform="translate(-0.91,0.10) scale(0.8858,1.0946)" font-size="15.5">10</text>
<text transform="translate(13.07,-6.00) scale(1.0756,1.0221)" font-size="11">4</text>
<text transform="translate(22.58,0.10) scale(1.0284,0.9994)" font-size="15.5">e</text><text transform="translate(30.10,0.10) scale(0.9290,0.9978)" font-size="15.5">v</text><text transform="translate(37.48,0.10) scale(1.0284,0.9994)" font-size="15.5">e</text><text transform="translate(45.17,0.25) scale(0.9218,1.0201)" font-size="15.5">n</text><text transform="translate(52.63,0.08) scale(1.1318,1.1208)" font-size="15.5">t</text><text transform="translate(58.48,0.10) scale(1.1373,0.9994)" font-size="15.5">s</text>
<text transform="translate(64.63,2.40) scale(1.0920,1.0920)" font-size="15.5">&#183;</text>
<text transform="translate(70.71,0.22) scale(0.9331,1.2003)" font-size="15.5">G</text><text transform="translate(81.66,0.10) scale(1.0633,0.9994)" font-size="15.5">e</text><text transform="translate(89.54,0.02) scale(0.9220,1.1749)" font-size="15.5">V</text>
</g>
<text transform="translate(256.78,26.90) scale(1.1558,1.0444)" font-size="15.5">F</text><text transform="translate(266.49,26.94) scale(0.9629,1.0659)" font-size="15.5">G</text>
<text transform="translate(258.84,46.03) scale(1.0268,1.1043)" font-size="15.5">S</text><text transform="translate(267.48,45.80) scale(1.1558,1.0543)" font-size="15.5">F</text>
<text transform="translate(249.84,65.90) scale(1.1650,0.8996)" font-size="15.5" font-style="italic">&#954;</text>
<text transform="translate(258.87,67.93) scale(0.9189,1.2954)" font-size="15.5">-</text>
<text transform="translate(263.23,65.90) scale(1.1954,1.0721)" font-size="15.5">f</text><text transform="translate(269.54,65.90) scale(0.8139,1.0913)" font-size="15.5">i</text><text transform="translate(273.06,65.83) scale(0.9350,1.0926)" font-size="15.5">t</text>
</g>
<path d="M283.2,22.8 H309.6" fill="none" stroke="#0000ff" stroke-width="1.3" stroke-dasharray="1.2 1.25" stroke-opacity="0.68"/>
<path d="M283.4,42 H310" fill="none" stroke="#ff0000" stroke-width="1.8" stroke-linejoin="round"/>
<path d="M283.45,61 H310" fill="none" stroke="#00c000" stroke-width="1.8" stroke-dasharray="12.2 1.61"/>
</svg></body></html>
